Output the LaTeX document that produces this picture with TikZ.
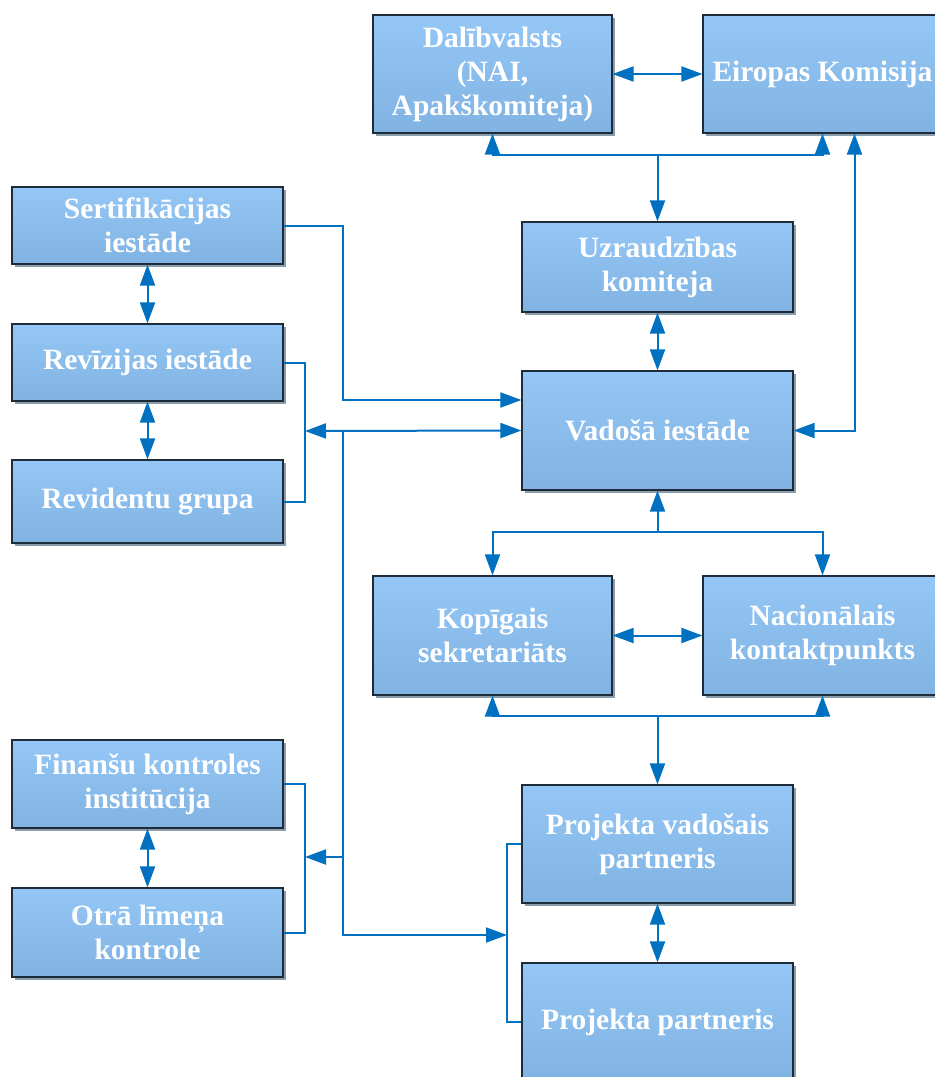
\documentclass[tikz,border=0pt]{standalone}
\usepackage{fontspec}
\setmainfont{Liberation Serif}
\usetikzlibrary{arrows.meta,shadows}
\definecolor{azul}{HTML}{0070C0}
\definecolor{cajaarriba}{HTML}{95C7F6}
\definecolor{cajaabajo}{HTML}{80B2E2}
\definecolor{borde}{HTML}{1E2B38}
\definecolor{sombra}{HTML}{8A9DAD}
\begin{document}
\begin{tikzpicture}[x=1pt,y=-1pt,
  caja/.style={rectangle,draw=borde,line width=1.2pt,top color=cajaarriba,bottom color=cajaabajo,
    drop shadow={shadow xshift=3pt,shadow yshift=-3pt,fill=sombra,opacity=1},
    text=white,align=center,inner sep=0pt,font=\fontsize{29.5}{34}\selectfont\bfseries},
  ancha/.style={caja,minimum width=271pt},
  estrecha/.style={caja,minimum width=239pt},
  linea/.style={draw=azul,line width=2pt},
  flecha/.style={linea,-{Triangle[length=21pt,width=15pt]}},
  flecha2/.style={linea,{Triangle[length=21pt,width=15pt]}-{Triangle[length=21pt,width=15pt]}}]
  \useasboundingbox (0,0) rectangle (935,1077);

  % Fila superior (Dalībvalsts y Eiropas Komisija)
  \node[estrecha,minimum height=118pt] (dv) at (492.5,74) {Dalībvalsts\\(NAI,\\Apakškomiteja)};
  \node[estrecha,minimum height=118pt] (ek) at (822.5,74) {Eiropas Komisija};

  % Columna central
  \node[ancha,minimum height=90pt] (uk) at (657.5,267) {Uzraudzības\\komiteja};
  \node[ancha,minimum height=119pt] (vi) at (657.5,430.5) {Vadošā iestāde};
  \node[estrecha,minimum height=119pt] (ks) at (492.5,635.5) {Kopīgais\\sekretariāts};
  \node[estrecha,minimum height=119pt] (nkp) at (822.5,635.5) {Nacionālais\\kontaktpunkts};
  \node[ancha,minimum height=118pt] (pvp) at (657.5,844) {Projekta vadošais\\partneris};
  \node[ancha,minimum height=118pt] (pp) at (657.5,1022) {Projekta partneris};

  % Columna izquierda
  \node[ancha,minimum height=77pt] (si) at (147.5,225.5) {Sertifikācijas\\iestāde};
  \node[ancha,minimum height=77pt] (ri) at (147.5,362.5) {Revīzijas iestāde};
  \node[ancha,minimum height=83pt] (rg) at (147.5,501.5) {Revidentu grupa};
  \node[ancha,minimum height=88pt] (fki) at (147.5,784) {Finanšu kontroles\\institūcija};
  \node[ancha,minimum height=89pt] (olk) at (147.5,932.5) {Otrā līmeņa\\kontrole};

  % Puntos de unión
  \coordinate (b1) at (657.5,155);
  \coordinate (b2) at (657.5,532);
  \coordinate (b3) at (657.5,716);
  \coordinate (ca) at (305,431);
  \coordinate (cb) at (507,935);
  \coordinate (cc) at (305,857);
  \coordinate (j1) at (343,431);
  \coordinate (j2) at (343,857);
  \coordinate (j3) at (343,400);

  % Aristas de la parte superior
  \draw[flecha2] (dv) -- (ek);
  \foreach \to in {dv, ek}
    \draw[flecha] (b1) -| (\to.south);
  \draw[flecha] (b1) -- (uk.north);
  \draw[flecha2] (uk) -- (vi);
  \draw[flecha2] (vi.east) -| ([xshift=32pt]ek.south);

  % Aristas de la parte inferior
  \draw[flecha] (b2) -- (vi.south);
  \foreach \to in {ks, nkp}
    \draw[flecha] (b2) -| (\to.north);
  \draw[flecha2] (ks) -- (nkp);
  \foreach \to in {ks, nkp}
    \draw[flecha] (b3) -| (\to.south);
  \draw[flecha] (b3) -- (pvp.north);
  \draw[flecha2] (pvp) -- (pp);

  % Aristas de la columna izquierda
  \foreach \from/\to in {si/ri, ri/rg, fki/olk}
    \draw[flecha2] (\from) -- (\to);
  \draw[linea] (ri.east) -| (ca) |- (rg.east);
  \draw[linea] (fki.east) -| (cc) |- (olk.east);
  \draw[linea] (pvp.west) -| (cb) |- (pp.west);
  \draw[flecha] (si.east) -| (j3) -- ([yshift=30.5pt]vi.west);
  \draw[flecha2] (ca) -- (vi.west);
  \draw[flecha] (j1) |- (cb);
  \draw[flecha] (j2) -- (cc);
\end{tikzpicture}
\end{document}
